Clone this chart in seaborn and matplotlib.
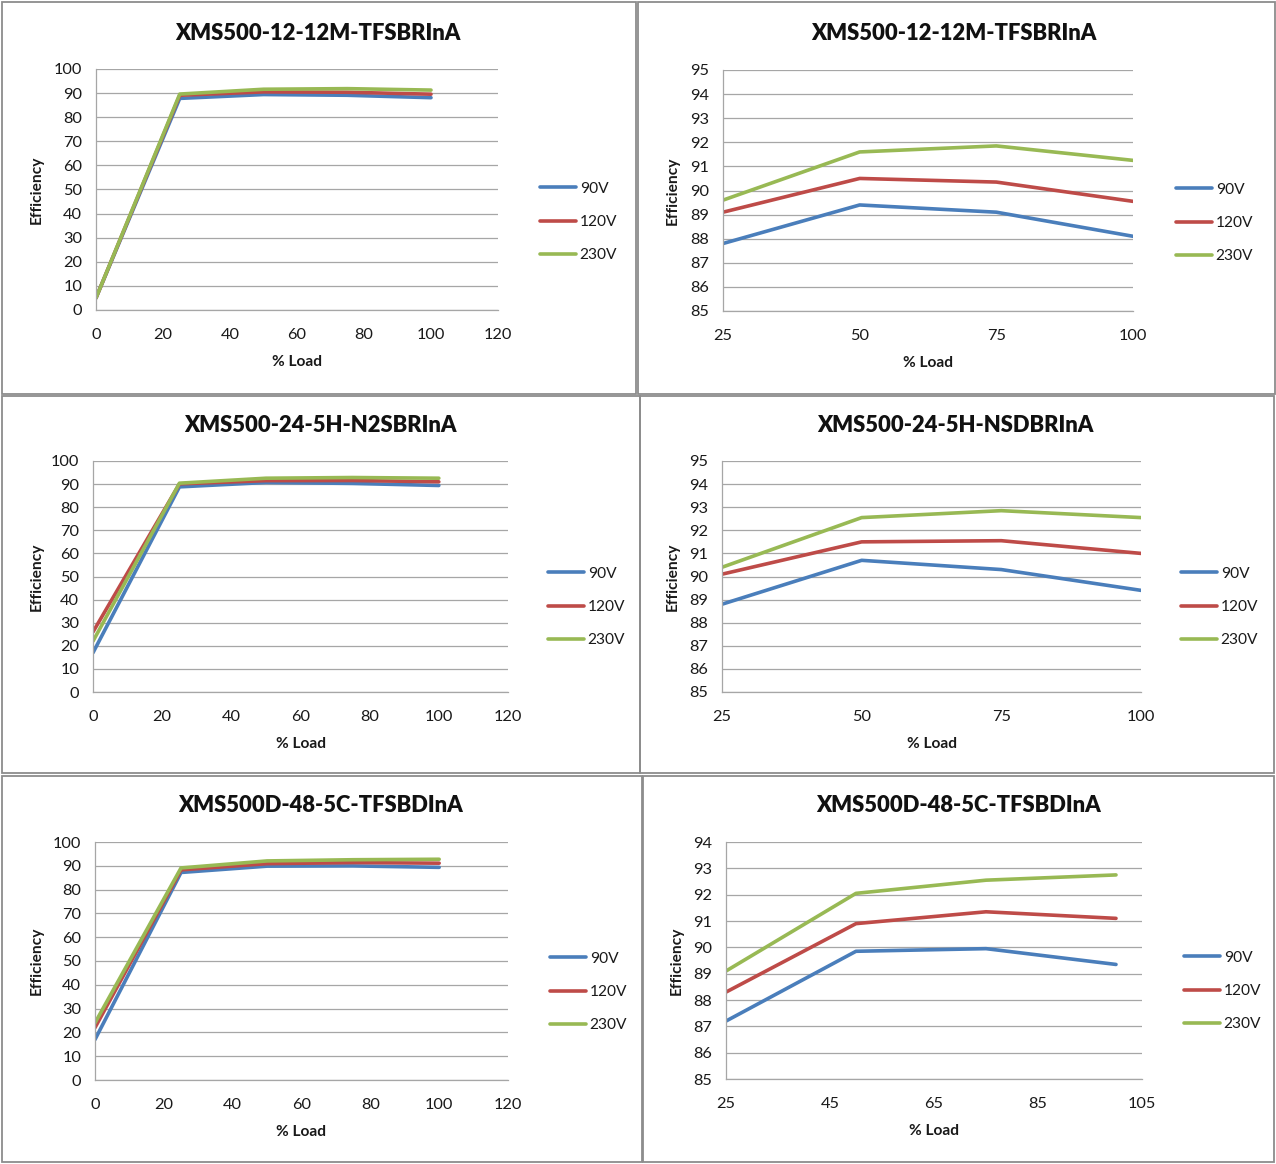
import matplotlib
matplotlib.use("Agg")
import matplotlib.pyplot as plt
import seaborn as sns
import pandas as pd
from matplotlib.patches import Rectangle
from matplotlib.lines import Line2D

sns.set_theme(style="white")
plt.rcParams['font.family'] = ['Lato', 'DejaVu Sans']

# ---------------- data ----------------
voltages = ["90V", "120V", "230V"]
load_full = [0, 25, 50, 75, 100]
load_zoom = [25, 50, 75, 100]

titles = ["XMS500-12-12M-TFSBRInA", "XMS500-12-12M-TFSBRInA",
          "XMS500-24-5H-N2SBRInA", "XMS500-24-5H-NSDBRInA",
          "XMS500D-48-5C-TFSBDInA", "XMS500D-48-5C-TFSBDInA"]

# product 1 (XMS500-12-12M)
p1_90 = [5, 87.8, 89.4, 89.1, 88.1]
p1_120 = [5, 89.1, 90.5, 90.35, 89.55]
p1_230 = [5, 89.6, 91.6, 91.85, 91.25]
# product 2 (XMS500-24-5H)
p2_90 = [17, 88.8, 90.7, 90.3, 89.4]
p2_120 = [26, 90.1, 91.5, 91.55, 91.0]
p2_230 = [22, 90.4, 92.55, 92.85, 92.55]
# product 3 (XMS500D-48-5C)
p3_90 = [17, 87.2, 89.85, 89.95, 89.35]
p3_120 = [22, 88.3, 90.9, 91.35, 91.1]
p3_230 = [24, 89.1, 92.05, 92.55, 92.75]

full_ticks_x = [0, 20, 40, 60, 80, 100, 120]
full_ticks_y = [0, 10, 20, 30, 40, 50, 60, 70, 80, 90, 100]
zoom_ticks_x_a = [25, 50, 75, 100]
zoom_ticks_x_b = [25, 45, 65, 85, 105]
zoom_ticks_y_a = [85, 86, 87, 88, 89, 90, 91, 92, 93, 94, 95]
zoom_ticks_y_b = [85, 86, 87, 88, 89, 90, 91, 92, 93, 94]

colors = {"90V": "#4A7EBB", "120V": "#BE4B48", "230V": "#98B954"}

W, H = 1276, 1164
fig = plt.figure(figsize=(W / 100, H / 100), dpi=100)


def make_df(x, s90, s120, s230):
    rows = []
    for v, s in zip(voltages, [s90, s120, s230]):
        for xi, yi in zip(x, s):
            rows.append({"Load": xi, "Eff": yi, "V": v})
    return pd.DataFrame(rows)


panels = [
    dict(border=(2, 2, 636, 394), ax=(96, 69, 498, 310),
         data=make_df(load_full, p1_90, p1_120, p1_230),
         xlim=(0, 120), xt=full_ticks_x, ylim=(0, 100), yt=full_ticks_y,
         tpos=(318, 32), lpos=(540, 222), ylx=37),
    dict(border=(638, 2, 1275, 394), ax=(723, 70, 1133, 311),
         data=make_df(load_zoom, p1_90[1:], p1_120[1:], p1_230[1:]),
         xlim=(25, 100), xt=zoom_ticks_x_a, ylim=(85, 95), yt=zoom_ticks_y_a,
         tpos=(954, 33), lpos=(1176, 223), ylx=673),
    dict(border=(2, 396, 640, 773), ax=(93, 461, 508, 692),
         data=make_df(load_full, p2_90, p2_120, p2_230),
         xlim=(0, 120), xt=full_ticks_x, ylim=(0, 100), yt=full_ticks_y,
         tpos=(320, 424), lpos=(548, 607), ylx=37),
    dict(border=(640, 396, 1274, 773), ax=(722, 461, 1141, 692),
         data=make_df(load_zoom, p2_90[1:], p2_120[1:], p2_230[1:]),
         xlim=(25, 100), xt=zoom_ticks_x_a, ylim=(85, 95), yt=zoom_ticks_y_a,
         tpos=(955, 425), lpos=(1181, 607), ylx=673),
    dict(border=(2, 776, 642, 1162), ax=(95, 842, 508, 1080),
         data=make_df(load_full, p3_90, p3_120, p3_230),
         xlim=(0, 120), xt=full_ticks_x, ylim=(0, 100), yt=full_ticks_y,
         tpos=(321, 805), lpos=(550, 992), ylx=37),
    dict(border=(643, 776, 1274, 1162), ax=(726, 842, 1142, 1079),
         data=make_df(load_zoom, p3_90[1:], p3_120[1:], p3_230[1:]),
         xlim=(25, 105), xt=zoom_ticks_x_b, ylim=(85, 94), yt=zoom_ticks_y_b,
         tpos=(959, 805), lpos=(1184, 991), ylx=677),
]

for i, p in enumerate(panels):
    bx0, by0, bx1, by1 = p["border"]
    fig.add_artist(Rectangle((bx0 / W, 1 - by1 / H), (bx1 - bx0) / W, (by1 - by0) / H,
                             transform=fig.transFigure, fill=False,
                             edgecolor="#8c8c8c", linewidth=1.3))
    x0, y0, x1, y1 = p["ax"]
    ax = fig.add_axes([x0 / W, 1 - y1 / H, (x1 - x0) / W, (y1 - y0) / H])
    sns.lineplot(data=p["data"], x="Load", y="Eff", hue="V", hue_order=voltages,
                 palette=colors, linewidth=2.6, ax=ax, legend=False, sort=False)
    ax.set_xlim(*p["xlim"])
    ax.set_ylim(*p["ylim"])
    ax.set_xticks(p["xt"])
    ax.set_yticks(p["yt"])
    ax.set_xticklabels([str(t) for t in p["xt"]])
    ax.set_yticklabels([str(t) for t in p["yt"]])
    ax.grid(axis="y", color="#a6a6a6", linewidth=0.9)
    ax.grid(axis="x", visible=False)
    ax.set_axisbelow(True)
    for s in ["top", "right"]:
        ax.spines[s].set_visible(False)
    for s in ["left", "bottom"]:
        ax.spines[s].set_color("#a6a6a6")
        ax.spines[s].set_linewidth(0.9)
    ax.tick_params(axis="both", length=0, labelsize=11.8, colors="#1a1a1a")
    ax.tick_params(axis="y", pad=10)
    ax.tick_params(axis="x", pad=13)
    ax.set_xlabel("")
    ax.set_ylabel("")
    fig.text((x0 + x1) / 2 / W, 1 - (y1 + 52) / H, "% Load", ha="center", va="center",
             fontsize=11.2, fontweight="bold", color="#1a1a1a")
    fig.text(p["ylx"] / W, 1 - (y0 + y1) / 2 / H, "Efficiency", ha="center", va="center",
             rotation=90, fontsize=11.2, fontweight="bold", color="#1a1a1a")
    fig.text(p["tpos"][0] / W, 1 - (p["tpos"][1] + 1) / H, titles[i], ha="center", va="center",
             fontsize=15.8, fontweight="heavy", color="#111111")
    handles = [Line2D([0], [0], color=colors[v], linewidth=2.6) for v in voltages]
    lx, ly = p["lpos"]
    ax.legend(handles, voltages, loc="center left",
              bbox_to_anchor=(lx / W, 1 - ly / H), bbox_transform=fig.transFigure,
              frameon=False, fontsize=11.2, handlelength=2.3, handletextpad=0.25,
              labelspacing=1.25, borderpad=0, borderaxespad=0, labelcolor="#1a1a1a")

fig.savefig("out.png", dpi=100, facecolor="white")
